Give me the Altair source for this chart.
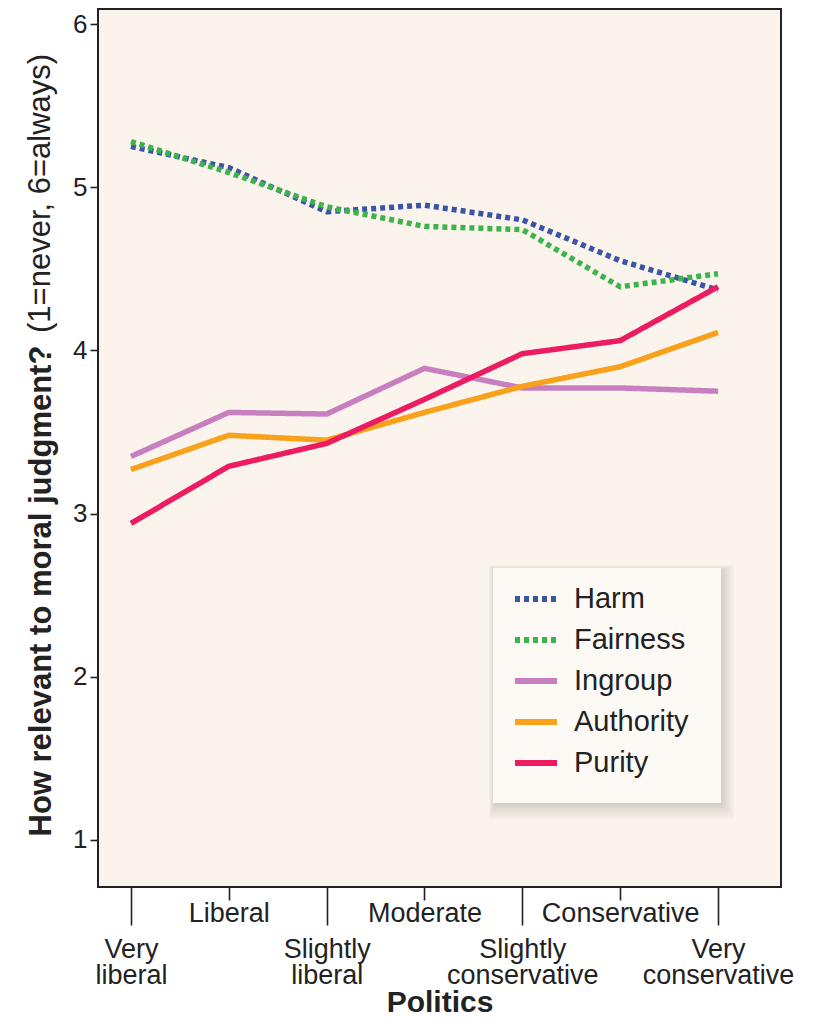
import json
import altair as alt
import pandas as pd

# ---- data ----
categories = ["Very liberal", "Liberal", "Slightly liberal", "Moderate",
              "Slightly conservative", "Conservative", "Very conservative"]
category_lines = [["Very", "liberal"], ["Liberal"], ["Slightly", "liberal"], ["Moderate"],
                  ["Slightly", "conservative"], ["Conservative"], ["Very", "conservative"]]
foundations = ["Harm", "Fairness", "Ingroup", "Authority", "Purity"]
harm = [5.25, 5.12, 4.85, 4.89, 4.80, 4.55, 4.37]
fairness = [5.28, 5.09, 4.88, 4.76, 4.74, 4.39, 4.47]
ingroup = [3.35, 3.62, 3.61, 3.89, 3.77, 3.77, 3.75]
authority = [3.27, 3.48, 3.45, 3.62, 3.78, 3.90, 4.11]
purity = [2.94, 3.29, 3.43, 3.70, 3.98, 4.06, 4.39]
y_ticks = [1, 2, 3, 4, 5, 6]
x_title = "Politics"
y_title_bold = "How relevant to moral judgment?"
y_title_rest = "(1=never, 6=always)"

colors = ["#3a55a6", "#3db34b", "#c87fc0", "#f9a11b", "#ec1c63"]
dashes = [[5, 4], [5, 4], [1, 0], [1, 0], [1, 0]]

series = {"Harm": harm, "Fairness": fairness, "Ingroup": ingroup,
          "Authority": authority, "Purity": purity}
rows = []
for f in foundations:
    for i, v in enumerate(series[f]):
        rows.append({"idx": i, "category": categories[i], "foundation": f, "value": v})
df = pd.DataFrame(rows)

W, H = 683, 878
FONT = "Liberation Sans"
INK = "#222222"

legend = alt.Legend(
    orient="none", legendX=395, legendY=559, title=None,
    symbolType="stroke", symbolSize=1764, symbolStrokeWidth=6,
    labelFontSize=29, labelFont=FONT, labelColor=INK, labelOffset=14,
    padding=7, symbolOffset=12, rowPadding=2,
)

x_enc = alt.X(
    "idx:Q",
    scale=alt.Scale(domain=[-0.337, 6.644], nice=False, zero=False),
    axis=alt.Axis(
        values=list(range(len(categories))),
        labelExpr=f"{json.dumps(category_lines)}[datum.value]",
        tickSize={"condition": {"test": "datum.value % 2 == 0", "value": 38}, "value": 13},
        labelPadding={"condition": {"test": "datum.value % 2 == 0", "value": 11}, "value": 0},
        labelFontSize=27, labelLineHeight=26, labelBaseline="top", labelColor=INK,
        labelFont=FONT, labelOverlap=False, labelFlush=False,
        tickWidth=1.6, tickColor=INK, domain=False, grid=False,
        title=x_title, titleFontSize=30, titleFontWeight="bold", titleFont=FONT,
        titleColor=INK, titleBaseline="alphabetic", titleY=124,
    ),
)
y_enc = alt.Y(
    "value:Q",
    scale=alt.Scale(domain=[0.712, 6.092], nice=False, zero=False),
    axis=alt.Axis(
        values=y_ticks, tickSize=8, tickWidth=1.6, tickColor=INK,
        labelFontSize=26, labelColor=INK, labelFont=FONT, labelPadding=3,
        domain=False, grid=False,
        title=y_title_bold, titleFontSize=31, titleFontWeight="bold", titleFont=FONT,
        titleColor=INK, titleAngle=270, titleAlign="left", titleBaseline="alphabetic",
        titleX=-48, titleY=827,
    ),
)

lines = alt.Chart(df).mark_line(strokeWidth=5.5, strokeCap="butt").encode(
    x=x_enc,
    y=y_enc,
    color=alt.Color("foundation:N", scale=alt.Scale(domain=foundations, range=colors),
                    sort=foundations, legend=legend),
    strokeDash=alt.StrokeDash("foundation:N", scale=alt.Scale(domain=foundations, range=dashes),
                              sort=foundations, legend=legend),
    order=alt.Order("idx:Q"),
)

one = pd.DataFrame({"t": [y_title_rest]})

# legend box with soft shadow (decoration)
shadow_layers = []
for k in range(1, 7):
    shadow_layers.append(
        alt.Chart(one).mark_rect(color="#000000", opacity=0.025).encode(
            x=alt.value(395 - k + 2), x2=alt.value(623 + k * 2.2),
            y=alt.value(559 - k + 3), y2=alt.value(794 + k * 2.6),
        )
    )
box = alt.Chart(one).mark_rect(color="#fdfaf5").encode(
    x=alt.value(395), x2=alt.value(623), y=alt.value(559), y2=alt.value(794)
)

y_title_tail = alt.Chart(one).mark_text(
    angle=270, align="left", baseline="alphabetic", fontSize=31, font=FONT, color=INK
).encode(text="t:N", x=alt.value(-48), y=alt.value(324))

chart = alt.layer(*shadow_layers, box, lines, y_title_tail).properties(
    width=W, height=H,
    autosize=alt.AutoSizeParams(type="none"),
    padding={"left": 90, "top": 1, "right": 18, "bottom": 132},
).configure(font=FONT).configure_view(
    fill="#fbf4ec", stroke=INK, strokeWidth=2
)

chart.save("out.html", embed_options={"renderer": "svg", "actions": False})
